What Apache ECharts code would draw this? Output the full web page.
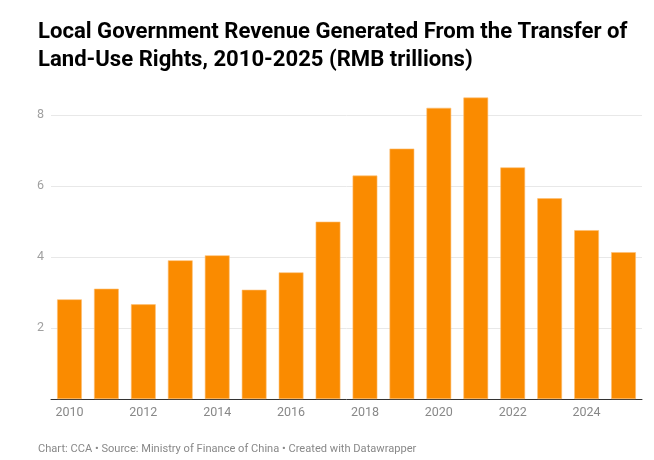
<!DOCTYPE html>
<html>
<head>
<meta charset="utf-8">
<script src="https://cdn.jsdelivr.net/npm/echarts@6/dist/echarts.min.js"></script>
<style>html,body{margin:0;padding:0;background:#fff}#c{width:654px;height:460px}</style>
</head>
<body>
<div id="c"></div>
<script>
const years = ['2010','2011','2012','2013','2014','2015','2016','2017','2018','2019','2020','2021','2022','2023','2024','2025'];
const revenue = [2.81,3.11,2.67,3.91,4.05,3.08,3.57,5.00,6.30,7.06,8.21,8.50,6.53,5.66,4.76,4.14];
const titleLine1 = 'Local Government Revenue Generated From the Transfer of';
const titleLine2 = 'Land-Use Rights, 2010-2025 (RMB trillions)';
const footerText = 'Chart: CCA \u2022 Source: Ministry of Finance of China \u2022 Created with Datawrapper';

// fit text widths to the reference layout
const ctx = document.createElement('canvas').getContext('2d');
function fitSize(text, weight, base, target){
  ctx.font = weight + ' ' + base + 'px Roboto';
  const w = ctx.measureText(text).width;
  return Math.round(base * target / w * 10) / 10;
}

function draw(){
  const titleSize = fitSize(titleLine1, 'bold', 22, 589);
  const footSize = fitSize(footerText, 'normal', 12, 378);
  const chart = echarts.init(document.getElementById('c'), null, {renderer:'canvas'});
  chart.setOption({
    animation:false,
    backgroundColor:'#fff',
    title:[{
      text:titleLine1 + '\n' + titleLine2,
      left:33, top:13, padding:5,
      textStyle:{fontFamily:'Roboto', fontWeight:'bold', fontSize:titleSize, lineHeight:28, color:'#000'}
    },{
      text:footerText,
      left:33, top:439, padding:5,
      textStyle:{fontFamily:'Roboto', fontWeight:'normal', fontSize:footSize, color:'#888'}
    }],
    grid:{left:51, right:12, top:94, bottom:61},
    xAxis:{
      type:'category', data:years,
      axisLine:{lineStyle:{color:'#333', width:1}},
      axisTick:{show:false},
      axisLabel:{interval:1, color:'#888', fontFamily:'Roboto', fontSize:12.5, margin:7}
    },
    yAxis:{
      type:'value', min:0, max:8.6, interval:2,
      axisLine:{show:false}, axisTick:{show:false},
      axisLabel:{showMaxLabel:false, showMinLabel:false, color:'#a0a0a0', fontFamily:'Roboto', fontSize:12.5, margin:7},
      splitLine:{lineStyle:{color:['#e8e8e8','#e8e8e8','#e8e8e8','#e8e8e8','#e8e8e8','rgba(0,0,0,0)'], width:1}}
    },
    series:[{
      type:'bar', data:revenue,
      barCategoryGap:'33%',
      itemStyle:{color:'#fa8b00', borderColor:'#fdbf74', borderWidth:0.6},
      clip:false
    }]
  });
}
if (document.fonts && document.fonts.load) {
  Promise.all([document.fonts.load('bold 22px Roboto'), document.fonts.load('12px Roboto')]).then(draw, draw);
} else { draw(); }
</script>
</body>
</html>
